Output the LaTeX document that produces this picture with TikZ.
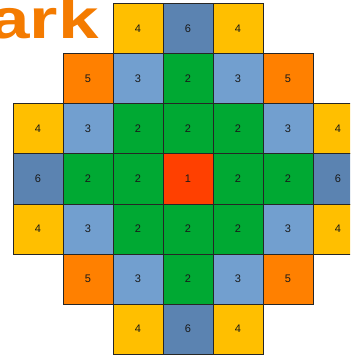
\documentclass[tikz,border=0pt]{standalone}
\usepackage{fontspec}
\setmainfont{Liberation Sans}
\definecolor{cfour}{HTML}{FFBF00}
\definecolor{csix}{HTML}{5B83B1}
\definecolor{cthree}{HTML}{729FCF}
\definecolor{ctwo}{HTML}{00A933}
\definecolor{cone}{HTML}{FF4000}
\definecolor{cfive}{HTML}{FF8000}
\definecolor{logo}{HTML}{F47B00}
\begin{document}
\begin{tikzpicture}[x=1pt,y=-1pt,
  cell/.style={draw=black!85,line width=1pt,minimum size=50pt,inner sep=0pt,font=\fontsize{11}{13}\selectfont,text=black!90},
  logotext/.style={text=logo,font=\fontsize{56}{60}\selectfont\bfseries,inner sep=0pt,anchor=base east,xscale=1.3}]
\useasboundingbox (0,0) rectangle (350,355);
\clip (0,0) rectangle (350,355);
\node[logotext] (logo) at (99,39) {ark};
\foreach \r/\c/\v/\col in {
  0/2/4/cfour,0/3/6/csix,0/4/4/cfour,
  1/1/5/cfive,1/2/3/cthree,1/3/2/ctwo,1/4/3/cthree,1/5/5/cfive,
  2/0/4/cfour,2/1/3/cthree,2/2/2/ctwo,2/3/2/ctwo,2/4/2/ctwo,2/5/3/cthree,2/6/4/cfour,
  3/0/6/csix,3/1/2/ctwo,3/2/2/ctwo,3/3/1/cone,3/4/2/ctwo,3/5/2/ctwo,3/6/6/csix,
  4/0/4/cfour,4/1/3/cthree,4/2/2/ctwo,4/3/2/ctwo,4/4/2/ctwo,4/5/3/cthree,4/6/4/cfour,
  5/1/5/cfive,5/2/3/cthree,5/3/2/ctwo,5/4/3/cthree,5/5/5/cfive,
  6/2/4/cfour,6/3/6/csix,6/4/4/cfour}
  \node[cell,fill=\col] (c\r\c) at ({38+50*\c},{29+50*\r}) {\v};
\end{tikzpicture}
\end{document}
